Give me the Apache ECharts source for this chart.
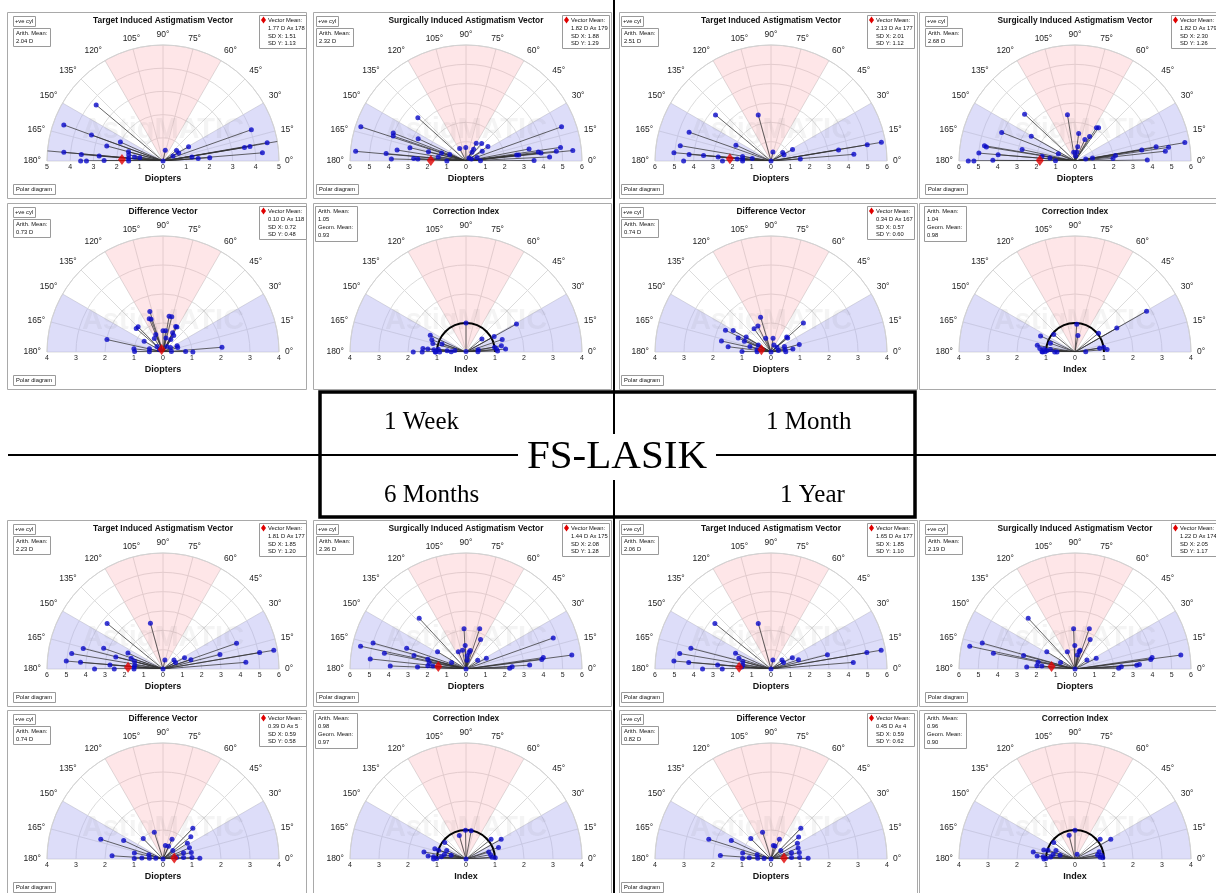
<!DOCTYPE html>
<html>
<head>
<meta charset="utf-8">
<title>FS-LASIK astigmatism polar diagrams</title>
<script src="https://cdn.jsdelivr.net/npm/echarts@6/dist/echarts.min.js"></script>
<style>
  html, body { margin: 0; padding: 0; background: #fff; }
  #chart { width: 1216px; height: 893px; }
</style>
</head>
<body>
<div id="chart"></div>
<script>
// ---------------------------------------------------------------
// Data: every eye as [magnitude (D or index), axis (degrees)]
// ---------------------------------------------------------------
const periods = ['1 Week', '1 Month', '6 Months', '1 Year'];

const tiaWeek1 = [[3.76,140],[4.55,160],[3.28,160],[2.01,156],[2.51,165],[5.05,175],[4.29,175],[3.53,175.5],[2.76,175.5],[3.55,180],[3.30,180],[2.54,179.5],[1.54,165],[1.50,170],[1.49,176],[1.48,180],[1.24,172],[1.01,172],[0.47,78],[0.74,38],[0.76,27],[0.48,26],[1.26,29],[1.26,8],[1.52,4],[2.02,4],[4.04,19.5],[3.56,9.4],[3.80,9.5],[4.56,10],[5.04,9.7],[4.30,4.7],[0,0]];
const siaWeek1 = [[3.35,138],[5.72,162],[4.03,159],[3.98,161],[2.73,155],[2.98,166.6],[3.61,171],[5.73,175],[4.15,174.7],[3.86,178.4],[2.71,177.3],[2.49,177.5],[2.0,166],[1.33,162],[0.91,158],[1.45,172],[0.99,180],[0.73,116.6],[0.70,91],[0.55,56],[0.72,57],[1.06,60],[1.21,48],[1.36,33.6],[0.98,31],[0.22,47],[0.6,17.5],[0.75,0.5],[3.32,10.8],[2.64,6.8],[2.75,6.5],[3.77,7],[3.90,6],[4.33,2.8],[4.70,6.2],[4.94,8.2],[5.55,5.6],[5.25,19.7],[3.52,0.5],[0.3,20]];
const dvWeek1 = [[1.47,108],[1.24,112.5],[1.20,110],[1.22,134.7],[1.23,138.6],[1.25,80.3],[1.25,76],[0.98,63.4],[0.99,61],[0.73,90],[0.74,83],[0.74,63.4],[0.68,57],[0.51,58],[0.49,78],[0.65,112.6],[0.75,150],[0.55,123],[1.98,167.5],[1.01,173.7],[0.98,178.8],[0.48,166.8],[0.47,179],[0.28,138],[0.15,148],[0.53,23.6],[0.53,16.6],[0.30,31],[0.29,3],[0.78,1.5],[1.03,0],[2.04,4.6],[0.23,54]];
const ciWeek1 = [[1.0,90],[1.36,155],[1.25,160.4],[1.18,165.7],[0.87,161.8],[1.49,175.4],[1.32,175.6],[1.82,180],[1.51,180],[1.11,176],[1.04,180],[0.96,174.5],[0.91,180],[0.65,176.5],[0.51,179],[0.39,172],[1.06,180],[0.02,90],[0.43,10.5],[0.71,39.3],[1.11,29],[1.99,29],[1.32,19],[1.24,10.2],[1.0,9.5],[1.06,5.4],[1.37,4.2],[1.09,2],[0.41,1]];

const tiaMonth1 = [[3.73,140.3],[2.47,105.5],[4.49,160.6],[4.76,170.4],[1.99,155.7],[5.04,175.1],[4.25,175.4],[3.50,175.4],[2.74,175.8],[4.52,180],[2.51,180],[1.75,176.4],[1.49,171],[1.47,176],[1.47,180],[0.98,172.4],[0.47,77.7],[0.75,36],[0.75,26],[1.26,28],[1.52,3.8],[3.54,9.3],[4.30,4.6],[5.05,9.6],[5.79,9.6],[0,0]];
const siaMonth1 = [[3.56,137.1],[2.42,99.3],[4.07,158.7],[2.60,150.5],[4.75,170.4],[4.64,171],[2.80,167.8],[4.99,175.3],[3.99,175.3],[5.52,180],[5.23,180],[4.25,179.5],[1.72,171.8],[1.30,173.4],[0.94,156.2],[1.01,179],[0.46,98.7],[0.47,79],[0.75,79.3],[1.44,82.4],[1.22,65.3],[1.47,59.2],[2.05,57.2],[2.11,54.7],[0.26,83],[0.56,10],[0.92,10],[1.97,3.8],[2.11,7.6],[3.50,9.4],[4.26,10],[4.70,6.2],[4.89,8.3],[5.76,9.5],[3.74,0.8]];
const dvMonth1 = [[1.25,106.7],[1.0,116.8],[0.99,126],[1.74,154.5],[1.50,150.4],[1.0,148.8],[1.23,157],[0.99,158],[1.75,167.5],[1.49,173],[0.75,165.4],[1.0,179],[0.49,170.5],[0.50,151],[0.48,179],[0.51,111],[0.48,81.5],[1.50,41.8],[0.75,43.9],[0.75,40],[0.26,67],[0.26,38],[0.50,22],[0.49,10.6],[0.76,7.6],[1.01,15],[0.26,11],[0.51,0.5],[0,0]];
const ciMonth1 = [[0.96,86.4],[0.58,80],[0.95,140.6],[1.31,155],[0.90,160.5],[1.32,170],[1.22,174.3],[1.07,174.6],[0.85,174],[1.14,179],[1.03,179.5],[0.97,177],[0.70,180],[0.62,180],[1.12,180],[0.37,1.5],[1.04,38.7],[1.66,29.8],[2.84,29.7],[0.86,8.8],[1.0,9.5],[1.11,4.6]];

const tiaMonth6 = [[3.73,140.8],[2.45,105.4],[4.26,165.5],[4.79,170.4],[3.25,160.8],[2.52,165.7],[1.99,155.6],[1.74,161.3],[5.02,175.3],[4.28,175.4],[2.75,175.6],[3.54,180],[2.52,180],[1.53,165],[1.47,172],[1.50,176],[1.50,180],[0.47,78],[0.73,39],[0.73,27.6],[1.26,27.8],[1.52,18.4],[3.04,14.3],[4.03,19.3],[4.30,4.6],[5.07,9.7],[5.81,9.6],[0,0]];
const siaMonth6 = [[3.57,132.7],[2.08,92.8],[2.20,71.2],[1.70,63.7],[1.21,92],[5.58,167.8],[4.99,164.4],[3.25,160.8],[4.30,169],[2.78,165.4],[1.72,148.8],[4.98,174],[3.92,177.7],[2.51,177.7],[2.04,165.6],[1.93,170],[1.98,175],[1.72,175],[0.82,156],[0.97,114],[0.99,100.5],[0.69,85],[0.88,79.6],[0.98,77],[0.46,82.6],[0.76,37],[1.19,28],[0,0],[2.26,1],[2.39,2.7],[3.30,3.5],[3.95,7.1],[4.04,8.4],[4.79,19.6],[5.52,7.5]];
const dvMonth6 = [[0.97,108],[0.98,134],[0.75,65.5],[1.48,46],[1.23,38.7],[1.0,32.7],[0.99,22.8],[2.25,162.4],[1.50,154.8],[1.76,176.4],[1.01,168],[0.99,179],[0.73,177],[0.51,163],[0.47,177],[0.25,175],[0.47,80],[0.48,66.7],[0.45,41],[0.74,17],[1.0,12.7],[0.71,4],[1.0,3],[1.27,1],[0.47,6],[0,0]];
const ciMonth6 = [[0.99,91],[0.99,79.6],[0.84,106],[0.93,142],[1.47,170.6],[1.31,175.6],[1.13,162],[0.99,162.3],[0.73,156],[1.12,176],[1.01,179],[0.85,175],[0.76,168.5],[0.53,165.7],[1.12,180],[1.10,38.3],[1.39,29.3],[1.19,19.6],[0.82,17],[0.86,10],[0.90,4],[1.01,2.5],[0,0]];

const tiaYear1 = [[3.74,140.9],[2.45,105.6],[4.28,165.5],[4.79,170.4],[2.01,155.9],[5.04,175.3],[4.27,175.4],[2.77,175.6],[3.54,180],[2.52,180],[1.75,161.4],[1.51,165],[1.47,172],[1.52,176],[0.47,78],[0.73,39],[0.73,27.6],[1.25,28],[1.50,18.7],[3.01,14.2],[4.27,4.6],[5.03,9.7],[5.78,9.7],[0,0]];
const siaYear1 = [[3.57,132.7],[2.08,92],[2.21,70.4],[1.71,62.8],[1.21,90.5],[0.97,114],[1.0,75],[0.93,77],[0.73,80.5],[0.77,36.6],[1.23,27],[5.57,167.8],[4.98,164.4],[4.30,169],[2.75,165.3],[1.71,148.6],[2.50,177.7],[1.94,169.6],[1.98,175],[1.72,175],[0.82,156],[0,0],[2.26,1],[2.40,2.7],[3.20,3.5],[3.34,4],[3.95,7.1],[4.03,8.4],[5.52,7.5]];
const dvYear1 = [[0.97,107.5],[0.99,134.6],[0.74,66.9],[1.48,46],[1.22,38.7],[1.06,30.7],[1.01,22],[0.47,80],[0.47,73],[2.25,162.4],[1.51,155],[1.75,176],[1.0,168],[0.98,179],[0.75,177],[0.50,163],[0.46,177],[0.24,175],[0.45,41],[0.74,17],[1.0,12.7],[0.71,4],[0.99,3],[1.28,1],[0,0]];
const ciYear1 = [[0.99,90],[0.84,104],[0.93,142],[1.46,170.6],[1.31,175.6],[1.12,164],[0.98,162],[0.72,156],[1.10,176],[1.0,179],[0.84,175],[0.77,168.5],[0.53,166],[1.07,180],[0.18,66],[1.10,38],[1.41,29],[0.87,16.5],[0.79,10],[0.87,4],[0.96,2.5],[0.92,8]];

// Summary statistics per period (1 Week, 1 Month, 6 Months, 1 Year)
const tiaMean  = [[1.77,178],[2.13,177],[1.81,177],[1.65,177]];
const tiaSd    = [[1.51,1.13],[2.01,1.12],[1.85,1.20],[1.85,1.10]];
const tiaArith = [2.04, 2.51, 2.23, 2.06];
const siaMean  = [[1.82,179],[1.82,179],[1.44,175],[1.22,174]];
const siaSd    = [[1.88,1.29],[2.30,1.26],[2.08,1.28],[2.05,1.17]];
const siaArith = [2.32, 2.68, 2.36, 2.19];
const dvMean   = [[0.10,118],[0.34,167],[0.39,5],[0.45,4]];
const dvSd     = [[0.72,0.48],[0.57,0.60],[0.59,0.58],[0.59,0.62]];
const dvArith  = [0.73, 0.74, 0.74, 0.82];
const ciArith  = [1.05, 1.04, 0.98, 0.96];
const ciGeom   = [0.93, 0.98, 0.97, 0.90];

// Radial axis extents and angle ticks
const tiaMax = [5, 6, 6, 6];
const siaMax = [6, 6, 6, 6];
const dvMax  = [4, 4, 4, 4];
const ciMax  = [4, 4, 4, 4];
const angleTicks = [0, 15, 30, 45, 60, 75, 90, 105, 120, 135, 150, 165, 180];
const ciReference = 1;   // CI = 1 reference semicircle

// ---------------------------------------------------------------
// Layout
// ---------------------------------------------------------------
const FONT = '"Liberation Sans", Arial, sans-serif';
const SERIF = '"Liberation Serif", "Times New Roman", serif';
const R = 116;
const colCx = [163, 466, 771, 1075];
const rowCy = [161, 352, 669, 859];
const panelX = [7, 313, 619, 919];
const panelW = [299, 298, 298, 305];

const BLUE = 'rgba(170,170,240,0.40)';
const PINK = 'rgba(250,160,165,0.26)';
const CLEAR = 'rgba(255,255,255,0)';
// one colour per 15° slice from 0° to 180°, then the closing (unused) lower half
const sliceColors = [BLUE, BLUE, CLEAR, CLEAR, PINK, PINK, PINK, PINK, CLEAR, CLEAR, BLUE, BLUE, CLEAR];

const titles = {
  tia: 'Target Induced Astigmatism Vector',
  sia: 'Surgically Induced Astigmatism Vector',
  dv: 'Difference Vector',
  ci: 'Correction Index'
};

const option = {
  animation: false,
  backgroundColor: '#ffffff',
  polar: [],
  angleAxis: [],
  radiusAxis: [],
  series: [],
  graphic: { elements: [] }
};
const G = option.graphic.elements;

function txt(x, y, str, size, o) {
  o = o || {};
  const align = o.align || 'left';
  const va = o.va || 'middle';
  return {
    type: 'text', x: x, y: y, z: o.z || 10, silent: true,
    style: {
      text: str, fontSize: size, fontFamily: o.family || FONT,
      fontWeight: o.weight || 'normal', fill: o.fill || '#111',
      align: align, textAlign: align, verticalAlign: va, textVerticalAlign: va,
      backgroundColor: o.bg, padding: o.pad
    }
  };
}
function box(x, y, w, h, o) {
  o = o || {};
  return {
    type: 'rect', z: o.z || 9, silent: true,
    shape: { x: x + 0.5, y: y + 0.5, width: w, height: h },
    style: { fill: o.fill || '#fff', stroke: o.stroke || '#9a9a9a', lineWidth: o.lw || 1 }
  };
}

let polarCount = 0;
function addPolar(cx, cy, r) {
  option.polar.push({ center: [cx, cy], radius: r });
  return polarCount++;
}

// vectors from the origin, separated by gaps
function spokes(points) {
  const out = [];
  points.forEach(function (p) { out.push([0, p[1]], [p[0], p[1]], ['-', '-']); });
  return out;
}

function addPanel(kind, k, points) {
  const c0 = (k % 2) * 2, r0 = Math.floor(k / 2) * 2;
  const col = c0 + (kind === 'sia' || kind === 'ci' ? 1 : 0);
  const row = r0 + (kind === 'dv' || kind === 'ci' ? 1 : 0);
  const cx = colCx[col], cy = rowCy[row];
  const maxR = { tia: tiaMax, sia: siaMax, dv: dvMax, ci: ciMax }[kind][k];

  // panel frame
  G.push(box(panelX[col], cy - 149, panelW[col], 186, { fill: 'none', stroke: '#a9a9a9', z: 8 }));
  // watermark
  G.push(txt(cx, cy - 31, 'AstigMATIC', 29, { align: 'center', weight: 'bold', fill: 'rgba(90,90,90,0.065)', z: 1 }));
  // title + axis name
  G.push(txt(cx, cy - 140, titles[kind], 8.4, { align: 'center', weight: 'bold', fill: '#111' }));
  G.push(txt(cx, cy + 18, kind === 'ci' ? 'Index' : 'Diopters', 9, { align: 'center', weight: 'bold', fill: '#111' }));

  // main polar: grid, shading, angle labels, right-hand radius labels
  const p = addPolar(cx, cy, R);
  option.angleAxis.push({
    polarIndex: p, type: 'value', min: angleTicks[0], max: angleTicks[angleTicks.length - 1], interval: 15,
    startAngle: 0, endAngle: 180, clockwise: false,
    axisLine: { show: true, lineStyle: { color: '#d2d2d2', width: 1 } },
    axisTick: { show: false },
    axisLabel: { show: true, formatter: '{value}°', fontSize: 8.5, color: '#222', margin: 6, fontFamily: FONT },
    splitLine: { show: true, lineStyle: { color: '#dcdcdc', width: 1 } },
    splitArea: { show: true, areaStyle: { color: sliceColors } }
  });
  option.radiusAxis.push({
    polarIndex: p, type: 'value', min: 0, max: maxR, interval: 1,
    axisLine: { show: false }, axisTick: { show: false },
    axisLabel: { show: true, fontSize: 7, color: '#222', margin: -3, align: 'center', verticalAlign: 'top', fontFamily: FONT },
    splitLine: { show: true, lineStyle: { color: '#dcdcdc', width: 1 } }
  });

  // mirror polar carrying the left-hand radius labels
  const q = addPolar(cx, cy, R);
  option.angleAxis.push({
    polarIndex: q, type: 'value', min: 0, max: 180, startAngle: 180, endAngle: 0, clockwise: true,
    axisLine: { show: false }, axisTick: { show: false }, axisLabel: { show: false },
    splitLine: { show: false }, splitArea: { show: false }
  });
  option.radiusAxis.push({
    polarIndex: q, type: 'value', min: 0, max: maxR, interval: 1,
    axisLine: { show: false }, axisTick: { show: false }, splitLine: { show: false },
    axisLabel: { show: true, fontSize: 7, color: '#222', margin: 3, align: 'center', verticalAlign: 'top', fontFamily: FONT,
      formatter: function (v) { return v === 0 ? '' : String(v); } }
  });

  // vectors and their end points
  option.series.push({
    type: 'line', coordinateSystem: 'polar', polarIndex: p, data: spokes(points),
    symbol: 'none', connectNulls: false, silent: true, z: 3,
    lineStyle: { color: '#333333', width: 0.75 }
  });
  option.series.push({
    type: 'scatter', coordinateSystem: 'polar', polarIndex: p,
    data: points.map(function (pt) { return [pt[0], pt[1]]; }),
    symbol: 'circle', symbolSize: 5, silent: true, z: 4,
    itemStyle: { color: '#0a0ac8' }
  });

  if (kind === 'ci') {
    // CI = 1 reference arc
    const a = addPolar(cx, cy, R * ciReference / maxR);
    option.angleAxis.push({
      polarIndex: a, type: 'value', min: 0, max: 180, startAngle: 0, endAngle: 180, clockwise: false,
      axisLine: { show: true, lineStyle: { color: '#000', width: 2 } },
      axisTick: { show: false }, axisLabel: { show: false }, splitLine: { show: false }, splitArea: { show: false }
    });
    option.radiusAxis.push({ polarIndex: a, type: 'value', min: 0, max: 1, show: false });

    G.push(box(cx - 151, cy - 146, 42, 35));
    G.push(txt(cx - 148, cy - 140.5, 'Arith. Mean:', 5.8));
    G.push(txt(cx - 148, cy - 132.5, ciArith[k].toFixed(2), 5.8));
    G.push(txt(cx - 148, cy - 124.5, 'Geom. Mean:', 5.8));
    G.push(txt(cx - 148, cy - 116.5, ciGeom[k].toFixed(2), 5.8));
    return;
  }

  const mean = { tia: tiaMean, sia: siaMean, dv: dvMean }[kind][k];
  const sd = { tia: tiaSd, sia: siaSd, dv: dvSd }[kind][k];
  const arith = { tia: tiaArith, sia: siaArith, dv: dvArith }[kind][k];

  option.series.push({
    type: 'scatter', coordinateSystem: 'polar', polarIndex: p, data: [[mean[0], mean[1]]],
    symbol: 'diamond', symbolSize: [8, 11], silent: true, z: 5,
    itemStyle: { color: '#e00000' }
  });

  // side boxes
  G.push(box(cx - 150, cy - 145, 22, 10));
  G.push(txt(cx - 139, cy - 140, '+ve cyl', 5.8, { align: 'center' }));
  G.push(box(cx - 150, cy - 133, 37, 18));
  G.push(txt(cx - 147, cy - 128, 'Arith. Mean:', 5.8));
  G.push(txt(cx - 147, cy - 120, arith.toFixed(2) + ' D', 5.8));
  G.push(box(cx - 150, cy + 23, 42, 10));
  G.push(txt(cx - 147, cy + 28, 'Polar diagram', 5.8));

  // legend
  G.push(box(cx + 96, cy - 146, 47, 33));
  const dx = cx + 100.5, dy = cy - 141;
  G.push({ type: 'polygon', z: 11, silent: true,
    shape: { points: [[dx, dy - 3.5], [dx + 2.5, dy], [dx, dy + 3.5], [dx - 2.5, dy]] },
    style: { fill: '#e00000' } });
  G.push(txt(cx + 105, cy - 141, 'Vector Mean:', 5.8));
  G.push(txt(cx + 105, cy - 133, mean[0].toFixed(2) + ' D Ax ' + mean[1], 5.8));
  G.push(txt(cx + 105, cy - 125, 'SD X: ' + sd[0].toFixed(2), 5.8));
  G.push(txt(cx + 105, cy - 117.5, 'SD Y: ' + sd[1].toFixed(2), 5.8));
}

addPanel('tia', 0, tiaWeek1);  addPanel('sia', 0, siaWeek1);
addPanel('dv', 0, dvWeek1);    addPanel('ci', 0, ciWeek1);
addPanel('tia', 1, tiaMonth1); addPanel('sia', 1, siaMonth1);
addPanel('dv', 1, dvMonth1);   addPanel('ci', 1, ciMonth1);
addPanel('tia', 2, tiaMonth6); addPanel('sia', 2, siaMonth6);
addPanel('dv', 2, dvMonth6);   addPanel('ci', 2, ciMonth6);
addPanel('tia', 3, tiaYear1);  addPanel('sia', 3, siaYear1);
addPanel('dv', 3, dvYear1);    addPanel('ci', 3, ciYear1);

// central divider cross and caption box
G.push({ type: 'line', z: 12, silent: true, shape: { x1: 614, y1: 0, x2: 614, y2: 893 }, style: { stroke: '#000', lineWidth: 2 } });
G.push({ type: 'line', z: 12, silent: true, shape: { x1: 8, y1: 455, x2: 1216, y2: 455 }, style: { stroke: '#000', lineWidth: 2 } });
G.push({ type: 'rect', z: 13, silent: true, shape: { x: 320, y: 392, width: 595, height: 125 }, style: { fill: 'none', stroke: '#000', lineWidth: 3.5 } });
G.push(txt(617, 457, 'FS-LASIK', 41, { align: 'center', family: SERIF, fill: '#000', bg: '#fff', pad: [3, 9, 2, 9], z: 14 }));
G.push(txt(384, 422, periods[0], 25, { family: SERIF, fill: '#000', z: 14 }));
G.push(txt(766, 422, periods[1], 25, { family: SERIF, fill: '#000', z: 14 }));
G.push(txt(384, 495, periods[2], 25, { family: SERIF, fill: '#000', z: 14 }));
G.push(txt(780, 495, periods[3], 25, { family: SERIF, fill: '#000', z: 14 }));

const chart = echarts.init(document.getElementById('chart'), null, { renderer: 'canvas' });
chart.setOption(option);
</script>
</body>
</html>
